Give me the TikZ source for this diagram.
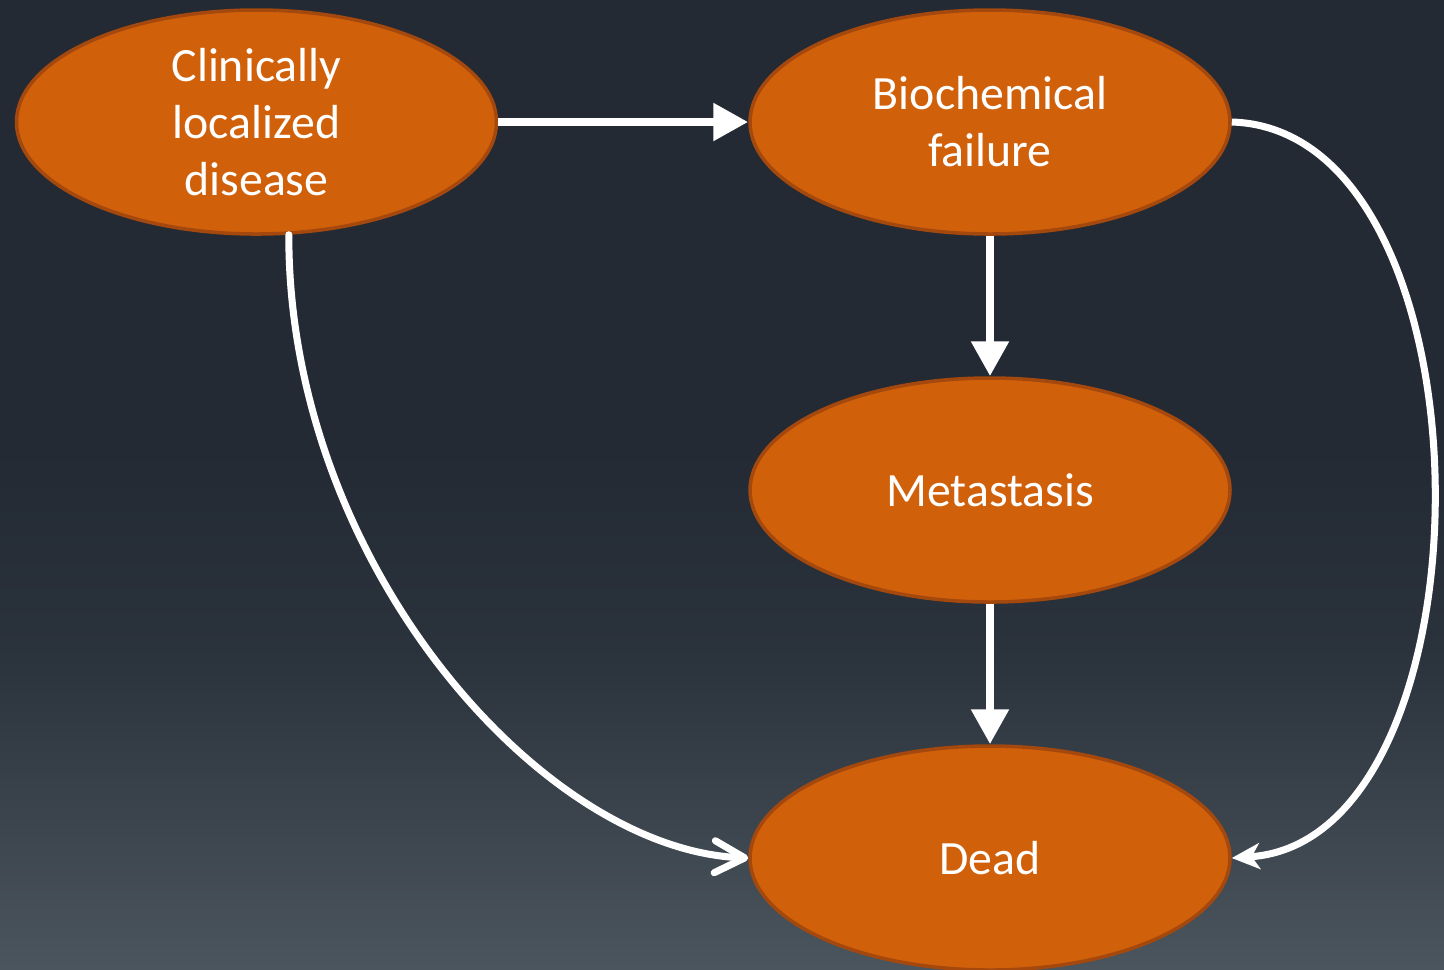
\documentclass[tikz,border=0pt]{standalone}
\usepackage{fontspec}
\setmainfont{Carlito}
\usetikzlibrary{shapes.geometric,arrows.meta}
\definecolor{bgtop}{HTML}{232A33}
\definecolor{bgmid}{HTML}{2A323B}
\definecolor{bgbot}{HTML}{4B555D}
\definecolor{stateorange}{HTML}{D1600B}
\definecolor{stateedge}{HTML}{A4480E}

\begin{document}
\begin{tikzpicture}[
    state/.style={ellipse,draw=stateedge,line width=1pt,fill=stateorange,
        minimum width=4.8cm,minimum height=2.24cm,inner sep=0pt,align=center,
        text=white,font=\fontsize{13.6}{16.2}\selectfont},
    bigarrow/.style={draw=white,line width=2.4pt,-{Triangle[length=0.35cm,width=0.36cm]}},
    leftcurve/.style={draw=white,line width=2pt,line cap=round,
        -{Straight Barb[length=0.3cm,width=0.32cm,round]}},
    rightcurve/.style={draw=white,line width=2pt,-{Stealth[length=0.28cm,width=0.26cm,inset=0.08cm]}}
    ]
            \useasboundingbox (0,0) rectangle (14.44,-9.69);
            \fill[bgtop] (0,0) rectangle (14.44,-4.5);
            \shade[top color=bgtop,bottom color=bgmid] (0,-4.49) rectangle (14.44,-6.5);
            \shade[top color=bgmid,bottom color=bgbot] (0,-6.49) rectangle (14.44,-9.69);
            \node[state] (cld) at (2.565,-1.22) {Clinically\\localized\\disease};
            \node[state] (bf) at (9.90,-1.22) {Biochemical\\failure};
            \node[state] (met) at (9.90,-4.90) {Metastasis};
            \node[state] (dead) at (9.90,-8.58) {Dead};
            \draw[bigarrow] (cld.east) -- (bf.west);
            \draw[bigarrow] (bf.south) -- (met.north);
            \draw[bigarrow] (met.south) -- (dead.north);
            \draw[leftcurve] (cld.-74) .. controls (2.88,-5.6) and (5.4,-8.5) .. (dead.west);
            \draw[rightcurve] (bf.east) .. controls (15.0,-1.3) and (15.0,-8.4) .. (dead.east);
        \end{tikzpicture}
\end{document}
